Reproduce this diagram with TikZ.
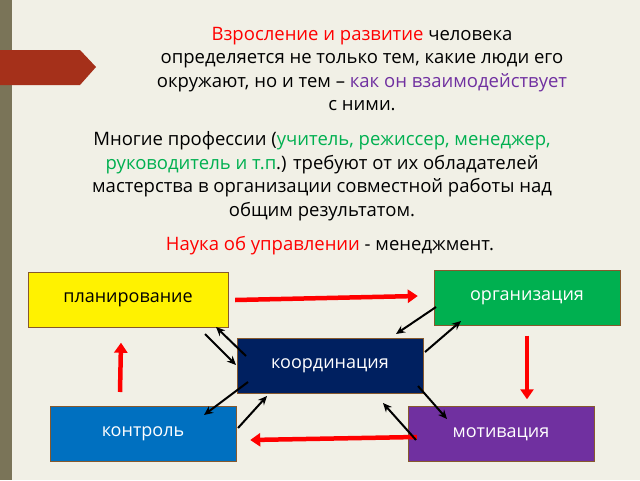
\documentclass[tikz,border=0pt]{standalone}
\usepackage{fontspec}
\setmainfont{Open Sans}
\usetikzlibrary{positioning,arrows.meta}
\definecolor{bg}{HTML}{F1F0E6}
\definecolor{strip}{HTML}{7A7458}
\definecolor{rustred}{HTML}{A5301A}
\definecolor{pgreen}{HTML}{00B050}
\definecolor{pnavy}{HTML}{002060}
\definecolor{pblue}{HTML}{0070C0}
\definecolor{ppurple}{HTML}{7030A0}
\begin{document}
\begin{tikzpicture}[x=1pt, y=-1pt,
        box/.style={draw=brown!70!black, minimum width=186pt, minimum height=55pt, font=\fontsize{18}{21}\selectfont, inner sep=0pt},
        redarrow/.style={draw=red, line width=4.5pt, -{Triangle[length=10pt,width=13pt]}},
        blackarrow/.style={draw=black, line width=2pt, -{Stealth[length=9pt,width=8pt]}},
        para/.style={align=center, font=\fontsize{18.5}{23.5}\selectfont, inner sep=0pt}
    ]
        % Background
        \fill[bg] (0,0) rectangle (640,480);
        \fill[strip] (0,0) rectangle (12,480);
        \fill[rustred] (0,50) -- (80,50) -- (96,67) -- (80,85) -- (0,85) -- cycle;
        
        % Texts
        \node[para] (intro) at (362,69) {\textcolor{red}{Взросление и развитие} человека\\определяется не только тем, какие люди его\\окружают, но и тем -- \textcolor{ppurple}{как он взаимодействует}\\с ними.};
        \node[para] (jobs) at (322,176) {Многие профессии (\textcolor{pgreen}{учитель, режиссер, менеджер,}\\\textcolor{pgreen}{руководитель и т.п}.) требуют от их обладателей\\мастерства в организации совместной работы над\\общим результатом.};
        \node[para] (mgmt) at (330,246) {\textcolor{red}{Наука об управлении} - менеджмент.};
        
        % Boxes
        \node[box, fill=yellow, minimum width=200pt, text=black] (plan) at (128,300) {планирование};
        \node[box, fill=pgreen, text=white] (org) at (527,298) {организация};
        \node[box, fill=pnavy, text=white] (coord) at (330,366) {координация};
        \node[box, fill=pblue, text=white] (ctrl) at (143,434) {контроль};
        \node[box, fill=ppurple, text=white] (motiv) at (501,434) {мотивация};
        
        % Cycle
        \draw[redarrow] ([xshift=7pt]plan.east) -- ([xshift=-16pt,yshift=2pt]org.west);
        \draw[redarrow] ([yshift=-10pt]org.south) -- ([yshift=7pt]motiv.north east -| org.south);
        \draw[redarrow] ([xshift=9pt,yshift=-3pt]motiv.west) -- ([xshift=14pt,yshift=-6pt]ctrl.east);
        \draw[redarrow] (120,392) -- ([yshift=-15pt]plan.south -| 121,0);
        
        % Coordination links
        \draw[blackarrow] (246,356) -- (216,327);
        \draw[blackarrow] (205,334) -- (236,365);
        \draw[blackarrow] (436,307) -- (396,334);
        \draw[blackarrow] (425,352) -- (461,321);
        \draw[blackarrow] (248,382) -- (204,415);
        \draw[blackarrow] (238,428) -- (267,396);
        \draw[blackarrow] (416,440) -- (383,403);
        \draw[blackarrow] (418,386) -- (447,419);
    \end{tikzpicture}
\end{document}
